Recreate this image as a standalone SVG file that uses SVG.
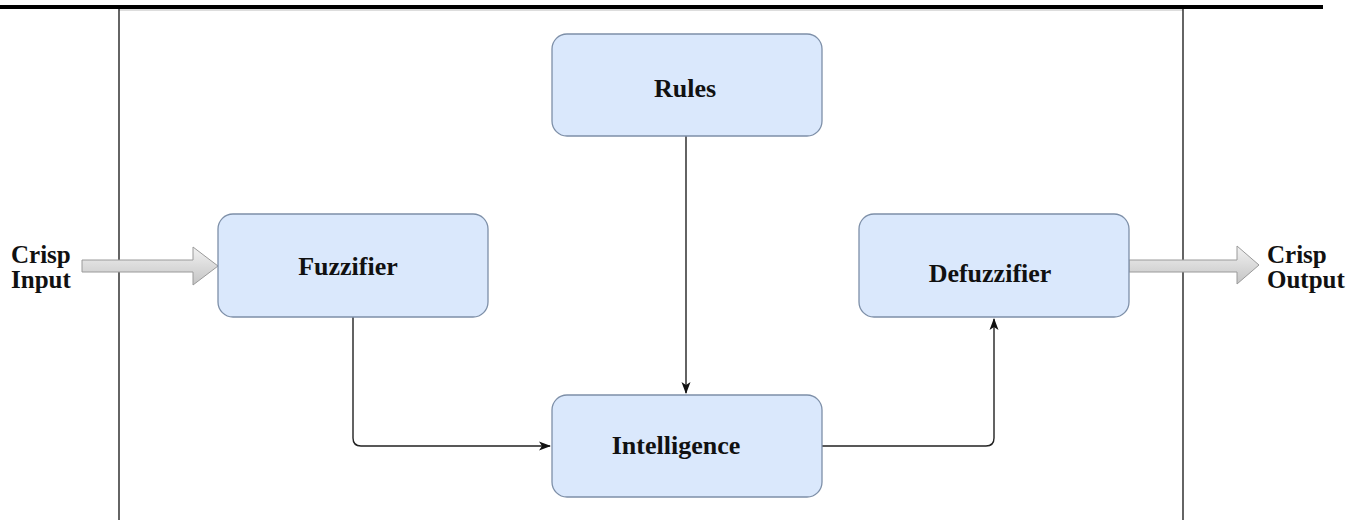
<svg xmlns="http://www.w3.org/2000/svg" width="1363" height="520" viewBox="0 0 1363 520">
<style>
.node rect{fill:#dae8fc;stroke:#7d8fa8;stroke-width:1.3}
.lbl{font-family:"Liberation Serif","Times New Roman",serif;font-weight:bold;font-size:26px;fill:#111}
.io{font-family:"Liberation Serif","Times New Roman",serif;font-weight:bold;font-size:25px;fill:#111}
.conn path{fill:none;stroke:#222;stroke-width:1.4}
.big{fill:url(#g);stroke:#9a9a9a;stroke-width:1}
</style>
<defs>
<marker id="ah" markerWidth="12" markerHeight="12" refX="11" refY="6" orient="auto" markerUnits="userSpaceOnUse">
<path d="M0,1.5 L12,6 L0,10.5 L3,6 Z" fill="#111"/>
</marker>
<linearGradient id="g" x1="0" y1="0" x2="0" y2="1">
<stop offset="0" stop-color="#f2f2f2"/>
<stop offset="1" stop-color="#c4c4c4"/>
</linearGradient>
</defs>
<rect width="1363" height="520" fill="#fff"/>
<rect x="0" y="5" width="1323" height="4" fill="#000"/>
<line x1="119" y1="10" x2="1183" y2="10" stroke="#bbb" stroke-width="1"/>
<line x1="119" y1="9" x2="119" y2="520" stroke="#111" stroke-width="1.3"/>
<line x1="1183" y1="9" x2="1183" y2="520" stroke="#111" stroke-width="1.3"/>

<g id="crisp-input">
<path class="big" d="M82,260 H193 V247 L218,266 L193,285 V272 H82 Z"/>
<text class="io" x="11" y="263">Crisp</text>
<text class="io" x="11" y="288">Input</text>
</g>
<g id="crisp-output">
<path class="big" d="M1129,260 H1237 V246 L1259,265 L1237,284 V272 H1129 Z"/>
<text class="io" x="1267" y="263">Crisp</text>
<text class="io" x="1267" y="288">Output</text>
</g>

<g class="conn" id="connectors">
<path d="M686,136 V393" marker-end="url(#ah)"/>
<path d="M353,317 V438 Q353,446 361,446 H550" marker-end="url(#ah)"/>
<path d="M822,446 H986 Q994,446 994,438 V319" marker-end="url(#ah)"/>
</g>

<g class="node" id="rules">
<rect x="552" y="34" width="270" height="102" rx="15"/>
<text class="lbl" x="685" y="97" text-anchor="middle">Rules</text>
</g>
<g class="node" id="fuzzifier">
<rect x="218" y="214" width="270" height="103" rx="15"/>
<text class="lbl" x="348" y="275" text-anchor="middle">Fuzzifier</text>
</g>
<g class="node" id="defuzzifier">
<rect x="859" y="214" width="270" height="103" rx="15"/>
<text class="lbl" x="990" y="282" text-anchor="middle">Defuzzifier</text>
</g>
<g class="node" id="intelligence">
<rect x="552" y="395" width="270" height="102" rx="15"/>
<text class="lbl" x="676" y="454" text-anchor="middle">Intelligence</text>
</g>
</svg>
